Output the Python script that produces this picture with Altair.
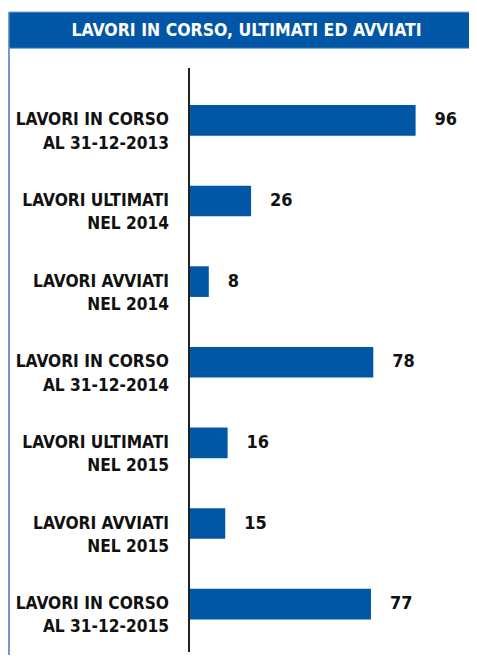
import altair as alt
import pandas as pd

line1 = ["LAVORI IN CORSO", "LAVORI ULTIMATI", "LAVORI AVVIATI", "LAVORI IN CORSO",
         "LAVORI ULTIMATI", "LAVORI AVVIATI", "LAVORI IN CORSO"]
line2 = ["AL 31-12-2013", "NEL 2014", "NEL 2014", "AL 31-12-2014",
         "NEL 2015", "NEL 2015", "AL 31-12-2015"]
values = [96, 26, 8, 78, 16, 15, 77]
title_text = "LAVORI IN CORSO, ULTIMATI ED AVVIATI"

df = pd.DataFrame({
    "cat": [a + "|" + b for a, b in zip(line1, line2)],
    "value": values,
})

FONT = "Liberation Sans Narrow, DejaVu Sans Condensed, sans-serif"
BLUE = "#0157A5"
W, H = 235, 564.5

ysc = alt.Scale(paddingInner=0.62, paddingOuter=0.31)
yenc = alt.Y("cat:N", sort=None, axis=None, scale=ysc)

base = alt.Chart(df)

bars = base.mark_bar(color=BLUE).encode(
    y=yenc,
    x=alt.X("value:Q", scale=alt.Scale(domain=[0, 100]), axis=None),
)

vals = base.mark_text(align="left", baseline="middle", dx=19, font=FONT,
                      fontSize=18, fontWeight="bold", color="#111").encode(
    y=yenc,
    x=alt.X("value:Q"),
    text=alt.Text("value:Q"),
)

cats = base.mark_text(align="right", baseline="middle", font=FONT, fontSize=17.2,
                      fontWeight="bold", color="#111", lineBreak="|",
                      lineHeight=23.3).encode(
    y=yenc,
    x=alt.value(-21),
    text="cat:N",
)

one = alt.Data(values=[{}])

axis_line = alt.Chart(one).mark_rule(color="#222", strokeWidth=2).encode(
    x=alt.value(-1), y=alt.value(-12), y2=alt.value(572)
)

frame_left = alt.Chart(one).mark_rule(color="#2a62ad", strokeWidth=1.3).encode(
    x=alt.value(-181), y=alt.value(-68), y2=alt.value(580)
)

band = alt.Chart(one).mark_rect(color=BLUE, stroke="#7aa2d4", strokeWidth=1).encode(
    x=alt.value(-181), x2=alt.value(300), y=alt.value(-68), y2=alt.value(-31.7)
)

title = alt.Chart(one).mark_text(align="center", baseline="middle", font=FONT,
                                 fontSize=17.5, fontWeight="bold", color="white").encode(
    x=alt.value(56.5), y=alt.value(-49), text=alt.value(title_text)
)

chart = alt.layer(frame_left, band, title, bars, axis_line, cats, vals).properties(
    width=W, height=H,
    autosize="none",
    padding={"left": 182, "top": 72, "right": 44, "bottom": 10},
).configure_view(stroke=None)

chart.save("out.html", embed_options={"renderer": "svg", "actions": False})
